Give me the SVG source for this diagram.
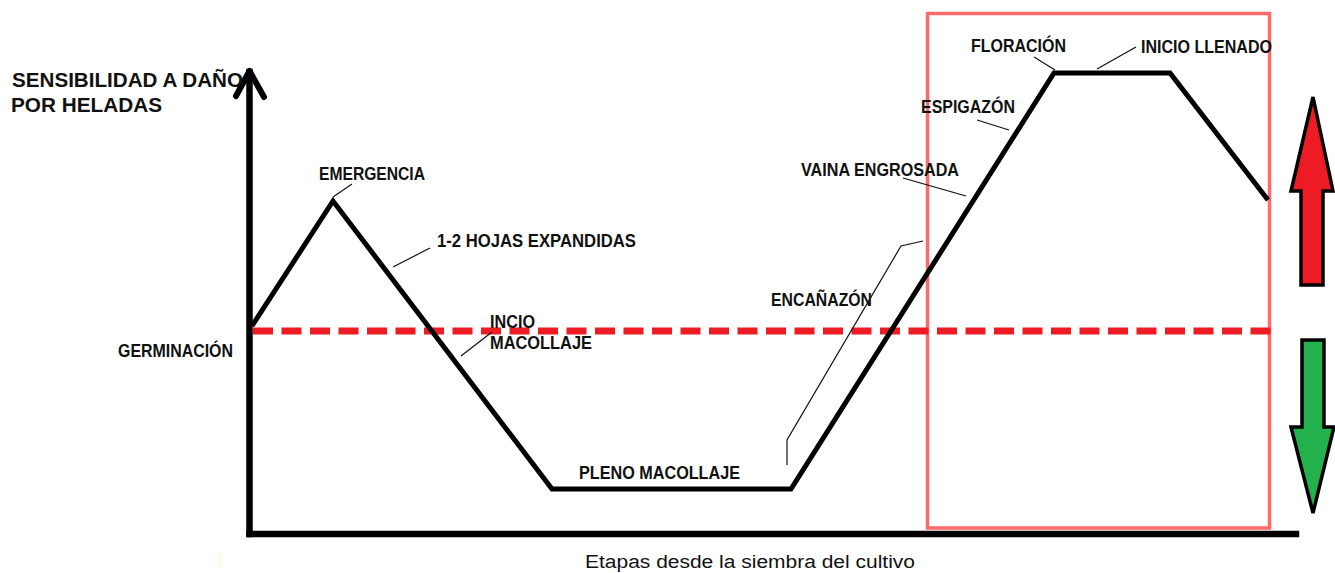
<svg xmlns="http://www.w3.org/2000/svg" width="1335" height="573" viewBox="0 0 1335 573">
<style>
.lbl{font-family:"Liberation Sans",Arial,sans-serif;font-weight:bold;font-size:18px;fill:#111}
.title{font-family:"Liberation Sans",Arial,sans-serif;font-weight:bold;font-size:21px;fill:#111}
.axis{stroke:#000;stroke-width:6.5;fill:none;stroke-linecap:square}
.lead{stroke:#111;stroke-width:1.2;fill:none}
.curve{stroke:#000;stroke-width:5;fill:none;stroke-linejoin:miter}
</style>
<rect width="1335" height="573" fill="#fff"/>
<g id="frame">
<rect x="927.5" y="13.5" width="342" height="514.5" fill="none" stroke="#ff6b6b" stroke-width="3.5"/>
</g>
<g id="threshold">
<line x1="253" y1="331" x2="1276" y2="331" stroke="#ed1c24" stroke-width="7" stroke-dasharray="20 8.5"/>
</g>
<g id="axes">
<line class="axis" x1="249.5" y1="72" x2="249.5" y2="534"/>
<line class="axis" x1="249.5" y1="534" x2="1296" y2="534"/>
<polyline points="236,96 249.5,71 264,97" fill="none" stroke="#000" stroke-width="6" stroke-linecap="round" stroke-linejoin="round"/>
<line x1="220" y1="552" x2="220" y2="568" stroke="#fff6b0" stroke-width="1"/>
</g>
<g id="curve">
<polyline class="curve" points="252,326 333,201 552,489 791,489 1054,73 1170,73 1268,200"/>
</g>
<g id="arrow-up">
<polygon points="1313,97 1333,191 1323,191 1323,285 1301,285 1301,191 1291,191" fill="#ed1c24" stroke="#000" stroke-width="3.5" stroke-linejoin="miter"/>
</g>
<g id="arrow-down">
<polygon points="1302,340 1324,340 1324,427 1334,427 1313,513 1291,427 1302,427" fill="#22b14c" stroke="#000" stroke-width="3.5" stroke-linejoin="miter"/>
</g>
<g id="connectors">
<line class="lead" x1="333" y1="197" x2="352" y2="184"/>
<line class="lead" x1="393" y1="267" x2="430" y2="248"/>
<line class="lead" x1="461" y1="356" x2="492" y2="332"/>
<polyline class="lead" points="787,465 787,440 901,246 923,241"/>
<line class="lead" x1="903" y1="178" x2="966" y2="196"/>
<line class="lead" x1="977" y1="120" x2="1009" y2="130"/>
<line class="lead" x1="1034" y1="57" x2="1055" y2="70"/>
<line class="lead" x1="1097" y1="69" x2="1136" y2="47"/>
</g>
<g id="title">
<text class="title" x="12" y="87" textLength="231" lengthAdjust="spacingAndGlyphs">SENSIBILIDAD A DAÑO</text>
<text class="title" x="11" y="112" textLength="151" lengthAdjust="spacingAndGlyphs">POR HELADAS</text>
</g>
<g id="xlabel">
<text x="585" y="568" font-family="'Liberation Sans',Arial,sans-serif" font-size="18" fill="#111" textLength="330" lengthAdjust="spacingAndGlyphs">Etapas desde la siembra del cultivo</text>
</g>
<g id="n-germinacion"><text class="lbl" x="118" y="357" textLength="115" lengthAdjust="spacingAndGlyphs">GERMINACIÓN</text></g>
<g id="n-emergencia"><text class="lbl" x="319" y="180" textLength="106" lengthAdjust="spacingAndGlyphs">EMERGENCIA</text></g>
<g id="n-hojas"><text class="lbl" x="437" y="247" textLength="199" lengthAdjust="spacingAndGlyphs">1-2 HOJAS EXPANDIDAS</text></g>
<g id="n-incio"><text class="lbl" x="490" y="328" textLength="45" lengthAdjust="spacingAndGlyphs">INCIO</text><text class="lbl" x="490" y="349" textLength="102" lengthAdjust="spacingAndGlyphs">MACOLLAJE</text></g>
<g id="n-pleno"><text class="lbl" x="579" y="479" textLength="161" lengthAdjust="spacingAndGlyphs">PLENO MACOLLAJE</text></g>
<g id="n-encanazon"><text class="lbl" x="771" y="306" textLength="101" lengthAdjust="spacingAndGlyphs">ENCAÑAZÓN</text></g>
<g id="n-vaina"><text class="lbl" x="801" y="176" textLength="158" lengthAdjust="spacingAndGlyphs">VAINA ENGROSADA</text></g>
<g id="n-espigazon"><text class="lbl" x="921" y="113" textLength="94" lengthAdjust="spacingAndGlyphs">ESPIGAZÓN</text></g>
<g id="n-floracion"><text class="lbl" x="971" y="52" textLength="95" lengthAdjust="spacingAndGlyphs">FLORACIÓN</text></g>
<g id="n-llenado"><text class="lbl" x="1141" y="53" textLength="131" lengthAdjust="spacingAndGlyphs">INICIO LLENADO</text></g>
</svg>
